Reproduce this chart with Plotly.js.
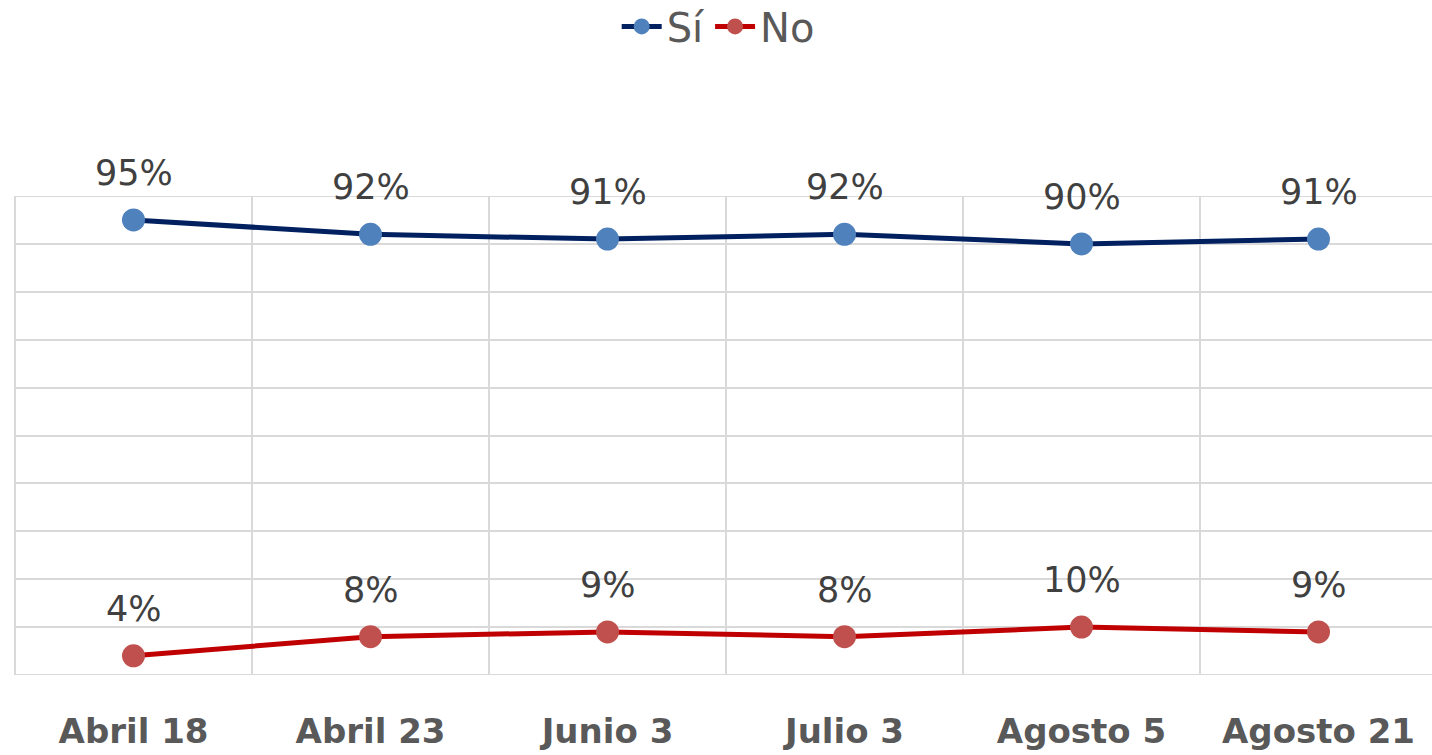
<!DOCTYPE html>
<html>
<head>
<meta charset="utf-8">
<script src="https://cdn.plot.ly/plotly-3.0.1.min.js"></script>
<style>
html,body{margin:0;padding:0;overflow:hidden;background:#fff;width:1432px;height:755px;}
#chart{width:1437px;height:755px;}
</style>
</head>
<body>
<div id="chart"></div>
<script>
var categories = ["Abril 18", "Abril 23", "Junio 3", "Julio 3", "Agosto 5", "Agosto 21"];
var siValues = [95, 92, 91, 92, 90, 91];
var noValues = [4, 8, 9, 8, 10, 9];
var siName = "Sí";
var noName = "No";

function labels(vals){ return vals.map(function(v){ return v + "%"; }); }

var labelFont = {family: "DejaVu Sans", size: 35, color: "#404040"};

var traces = [
  {
    x: categories, y: siValues, name: siName, type: "scatter",
    mode: "lines+markers",
    line: {color: "#002060", width: 5},
    marker: {color: "#4f81bd", size: 23},
    cliponaxis: false, hoverinfo: "none"
  },
  {
    x: categories, y: noValues, name: noName, type: "scatter",
    mode: "lines+markers",
    line: {color: "#c00000", width: 5},
    marker: {color: "#c0504d", size: 23},
    cliponaxis: false, hoverinfo: "none"
  }
];

var annotations = [];
[siValues, noValues].forEach(function(vals){
  vals.forEach(function(v, i){
    annotations.push({
      x: categories[i], y: v, xref: "x", yref: "y",
      text: labels(vals)[i], showarrow: false,
      yshift: 47, font: labelFont, xanchor: "center", yanchor: "middle"
    });
  });
});

var gridColor = "#d9d9d9";
var shapes = [
  {type: "line", xref: "paper", yref: "y", x0: 0, x1: 1, y0: 0, y1: 0, line: {color: gridColor, width: 2}, layer: "below"},
  {type: "line", xref: "paper", yref: "y", x0: 0, x1: 1, y0: 100, y1: 100, line: {color: gridColor, width: 2}, layer: "below"},
  {type: "line", xref: "paper", yref: "paper", x0: 0, x1: 0, y0: 0, y1: 1, line: {color: gridColor, width: 2}, layer: "below"}
];

var layout = {
  width: 1437, height: 755,
  margin: {l: 15, r: 0, t: 196, b: 80, autoexpand: false},
  paper_bgcolor: "#ffffff", plot_bgcolor: "#ffffff",
  showlegend: true,
  legend: {
    orientation: "h", x: 0.4945, xanchor: "center",
    yref: "container", y: 0.965, yanchor: "middle",
    font: {family: "DejaVu Sans", size: 40, color: "#595959"},
    itemwidth: 40, traceorder: "normal", itemsizing: "trace"
  },
  xaxis: {
    type: "category", range: [-0.5, 5.5], tickson: "boundaries",
    showgrid: true, gridcolor: gridColor, gridwidth: 2,
    showline: false, zeroline: false, ticks: "",
    ticklabelstandoff: 33,
    tickfont: {family: "DejaVu Sans", size: 34, color: "#595959", weight: "bold"}
  },
  yaxis: {
    range: [0, 100], dtick: 10, tick0: 0,
    showgrid: true, gridcolor: gridColor, gridwidth: 2,
    showline: false, zeroline: false, showticklabels: false, ticks: ""
  },
  annotations: annotations,
  shapes: shapes,
  hovermode: false
};

Plotly.newPlot("chart", traces, layout, {displayModeBar: false, staticPlot: true});
</script>
</body>
</html>
